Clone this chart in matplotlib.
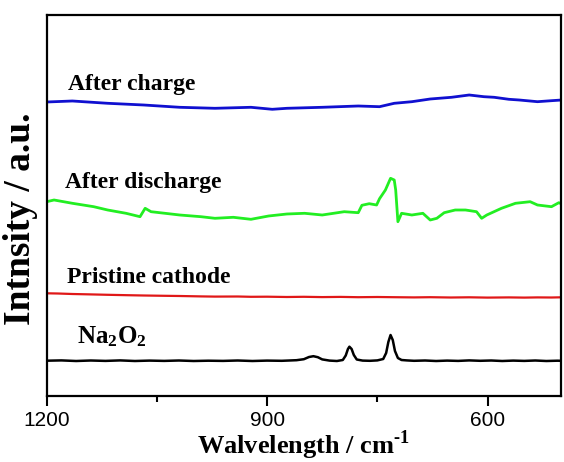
import matplotlib
matplotlib.use("Agg")
import matplotlib.pyplot as plt
from matplotlib.ticker import MultipleLocator

plt.rcParams['font.family'] = ['Liberation Serif', 'DejaVu Serif']
plt.rcParams['mathtext.fontset'] = 'custom'
plt.rcParams['mathtext.rm'] = 'Liberation Serif:bold'
plt.rcParams['mathtext.bf'] = 'Liberation Serif:bold'

# Espectros Raman (intensidad en unidades arbitrarias, con desplazamiento vertical)
wn_charge = [1200, 1165, 1117, 1068, 1019, 971, 922, 893, 873, 825, 776, 747, 727,
             703, 678, 649, 625, 605, 591, 571, 557, 532, 513, 499]
int_charge = [360, 361, 358.7, 357, 354.7, 353.7, 354.7, 352.7, 353.7, 354.7, 356,
              355.3, 358.7, 360.3, 363, 364.7, 367, 365.3, 364.7, 362.7, 362, 360.3,
              361.3, 362]

wn_discharge = [1200, 1190, 1165, 1136, 1117, 1092, 1073, 1066, 1058, 1039, 1019, 990,
                971, 946, 922, 898, 873, 849, 825, 795, 776, 771, 761, 751, 747, 739,
                732, 727, 725, 722, 717, 703, 688, 678, 669, 659, 644, 630, 615, 608,
                601, 581, 562, 542, 532, 513, 503, 499]
int_discharge = [260.3, 262, 258.7, 255.3, 252, 248.7, 245.3, 253.7, 250.3, 248.7, 247,
                 245.3, 243.7, 244.7, 242.7, 246, 248, 248.7, 247, 250.3, 249.3, 256.7,
                 258.3, 257, 263.3, 272, 283.7, 282, 272, 240.3, 248.7, 247, 248.7, 242,
                 243.7, 249.3, 252, 252, 250.3, 243.7, 247, 253.7, 258.7, 260.3, 257,
                 255.3, 259.3, 258]

wn_pristine = [1200, 1185, 1165, 1140, 1117, 1090, 1068, 1040, 1019, 990, 971, 940, 922,
               900, 873, 850, 825, 800, 776, 750, 727, 700, 678, 650, 625, 600, 571,
               550, 532, 513, 499]
int_pristine = [168.7, 168.5, 168, 167.6, 167.2, 166.8, 166.5, 166.2, 166, 165.6, 165.4,
                165.5, 165.2, 165.3, 165, 165.2, 164.9, 165.1, 164.8, 165, 164.8, 164.6,
                164.8, 164.5, 164.7, 164.4, 164.6, 164.4, 164.6, 164.5, 164.7]

wn_na2o2 = [1200, 1180, 1160, 1140, 1120, 1100, 1080, 1060, 1040, 1020, 1000, 980, 960,
            940, 920, 900, 880, 860, 850, 843, 837, 831, 825, 815, 805, 797, 793, 790,
            788, 785, 782, 778, 770, 760, 750, 742, 738, 735, 732, 729, 726, 722, 717,
            710, 700, 685, 670, 655, 640, 625, 610, 595, 580, 565, 550, 535, 520, 505,
            499]
int_na2o2 = [101.3, 101.6, 101.0, 101.5, 101.1, 101.6, 101.0, 101.4, 101.1, 101.5, 101.0,
             101.3, 101.1, 101.5, 101.0, 101.4, 101.2, 101.8, 102.8, 105.0, 105.8, 104.8,
             102.6, 101.4, 101.0, 102.0, 106.5, 113.0, 115.3, 113.0, 107.0, 102.5, 101.4,
             101.2, 101.6, 103.0, 109.0, 120.0, 127.0, 122.0, 111.0, 104.0, 102.0, 101.6,
             101.2, 101.5, 101.0, 101.4, 101.1, 101.6, 101.2, 101.5, 101.0, 101.4, 101.1,
             101.5, 101.0, 101.3, 101.2]

fig = plt.figure(figsize=(5.64, 4.62), dpi=100)
ax = fig.add_axes([0.0828, 0.1435, 0.9119, 0.8247])

ax.plot(wn_charge, int_charge, color='#1010d0', lw=2.0)
ax.plot(wn_discharge, int_discharge, color='#22ee22', lw=2.0)
ax.plot(wn_pristine, int_pristine, color='#e01818', lw=1.6)
ax.plot(wn_na2o2, int_na2o2, color='black', lw=1.8)

lab = dict(fontsize=17, fontweight='bold', ha='left', va='baseline')
ax.text(1171, 372, 'After charge', **lab)
ax.text(1175, 274, 'After discharge', **lab)
ax.text(1172, 179, 'Pristine cathode', **lab)
ax.text(1159, 119, r'$\mathbf{Na_2O_2}$', fontsize=18, fontweight='bold',
        ha='left', va='baseline')

ax.set_xlim(1200, 500)
ax.set_ylim(66.3, 447.3)
ax.xaxis.set_major_locator(MultipleLocator(300))
ax.xaxis.set_minor_locator(MultipleLocator(150))
ax.set_yticks([])
ax.tick_params(axis='x', which='major', length=7, width=1.5, direction='out',
               labelsize=15, pad=4)
ax.tick_params(axis='x', which='minor', length=4, width=1.5, direction='out')
for lbl in ax.get_xticklabels():
    lbl.set_family('Liberation Sans')
for s in ax.spines.values():
    s.set_linewidth(1.6)

ax.set_xlabel(r'Walvelength / cm$^{\text{-}1}$', fontsize=19, fontweight='bold',
              labelpad=-1)
fig.text(20.5 / 564, 1 - 219 / 462, 'Intnsity / a.u.', rotation=90, fontsize=27,
         fontweight='bold', ha='center', va='center')

fig.savefig('out.png', dpi=100)
